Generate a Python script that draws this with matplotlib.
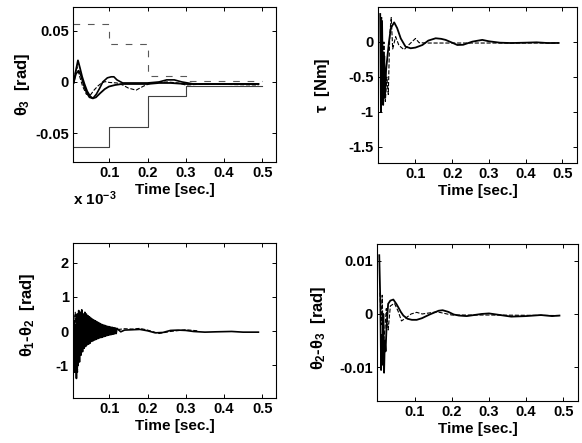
import matplotlib
matplotlib.use("Agg")
import matplotlib.pyplot as plt

plt.rcParams['font.family'] = ['Liberation Sans', 'DejaVu Sans']
plt.rcParams['font.weight'] = 'bold'
plt.rcParams['mathtext.fontset'] = 'custom'
plt.rcParams['mathtext.rm'] = 'Liberation Sans:bold'
plt.rcParams['mathtext.it'] = 'Liberation Sans:bold'
plt.rcParams['mathtext.bf'] = 'Liberation Sans:bold'

# ---- panel 1: theta_3 with bound staircase ----
th3_ta = [0.007, 0.012, 0.018, 0.023, 0.029, 0.035, 0.042, 0.050, 0.057, 0.065, 0.076,
          0.088, 0.099, 0.115, 0.133, 0.160, 0.200, 0.230, 0.260, 0.300, 0.350, 0.400,
          0.450, 0.490]
th3_a = [-0.001, 0.010, 0.021, 0.014, 0.005, -0.002, -0.009, -0.014, -0.016, -0.015, -0.011,
         -0.007, -0.0045, -0.003, -0.002, -0.002, -0.002, -0.001, -0.001, -0.002, -0.002, -0.002,
         -0.002, -0.002]
th3_tb = [0.007, 0.013, 0.020, 0.026, 0.033, 0.040, 0.048, 0.057, 0.066, 0.075, 0.083,
          0.095, 0.105, 0.112, 0.120, 0.135, 0.160, 0.200, 0.230, 0.250, 0.270, 0.290,
          0.320, 0.400, 0.490]
th3_b = [0.0, 0.008, 0.011, 0.006, -0.003, -0.010, -0.015, -0.016, -0.012, -0.006, 0.0,
         0.004, 0.005, 0.005, 0.002, -0.001, -0.001, -0.001, 0.0, 0.002, 0.002, 0.0,
         -0.002, -0.002, -0.002]
th3_tc = [0.007, 0.015, 0.022, 0.030, 0.040, 0.050, 0.060, 0.070, 0.080, 0.089, 0.100,
          0.120, 0.135, 0.150, 0.170, 0.190, 0.210, 0.250, 0.280, 0.300, 0.350, 0.490]
th3_c = [0.002, 0.015, 0.006, -0.004, -0.012, -0.013, -0.008, -0.004, -0.001, 0.0003, -0.0005,
         -0.001, -0.003, -0.006, -0.008, -0.004, -0.001, 0.0, -0.001, -0.003, -0.002, -0.003]
step_t = [0.005, 0.1, 0.2, 0.3, 0.5]
step_upper = [0.056, 0.037, 0.006, 0.001, 0.001]
step_lower = [-0.063, -0.044, -0.0136, -0.004, -0.004]

# ---- panel 2: torque ----
tau_ta = [0.004, 0.006, 0.009, 0.012, 0.015, 0.017, 0.020, 0.024, 0.028, 0.033, 0.042,
          0.050, 0.060, 0.073, 0.087, 0.100, 0.119, 0.135, 0.155, 0.170, 0.182, 0.200,
          0.214, 0.230, 0.255, 0.282, 0.300, 0.330, 0.360, 0.400, 0.430, 0.460, 0.490]
tau_a = [0.40, -1.00, 0.30, -0.90, -0.20, -0.80, -0.40, -0.19, 0.005, 0.20, 0.28,
         0.20, 0.05, -0.067, -0.09, -0.08, -0.043, 0.02, 0.053, 0.045, 0.03, -0.01,
         -0.043, -0.04, 0.005, 0.03, 0.01, -0.01, -0.015, -0.01, -0.005, -0.015, -0.014]
tau_tb = [0.005, 0.008, 0.011, 0.014, 0.018, 0.022, 0.026, 0.030, 0.034, 0.038, 0.046,
          0.055, 0.069, 0.080, 0.100, 0.110, 0.130, 0.200, 0.300, 0.490]
tau_b = [-0.20, 0.35, -0.70, 0.0, -0.85, -0.50, -0.75, 0.10, 0.35, -0.10, 0.076,
         -0.05, -0.11, -0.05, 0.05, -0.01, -0.015, -0.015, -0.015, -0.015]

# ---- panel 3: theta_1 - theta_2 ----
d12_t = [0.004, 0.006, 0.008, 0.010, 0.012, 0.014, 0.016, 0.018, 0.020, 0.022, 0.024,
         0.026, 0.028, 0.030, 0.032, 0.034, 0.036, 0.038, 0.040, 0.042, 0.044, 0.046,
         0.048, 0.050, 0.052, 0.054, 0.056, 0.058, 0.060, 0.062, 0.064, 0.066, 0.068,
         0.070, 0.072, 0.074, 0.076, 0.078, 0.080, 0.082, 0.084, 0.086, 0.088, 0.090,
         0.092, 0.094, 0.096, 0.098, 0.100, 0.102, 0.104, 0.106, 0.108, 0.110, 0.112,
         0.114, 0.116, 0.118, 0.120, 0.130, 0.140, 0.160, 0.180, 0.200, 0.220, 0.240,
         0.260, 0.280, 0.300, 0.320, 0.350, 0.380, 0.420, 0.450, 0.490]
d12 = [0.60, -0.80, 0.30, -1.20, 0.10, -1.38, 0.50, -1.00, 0.60, -0.90, 0.55,
       -0.70, 0.62, -0.60, 0.50, -0.50, 0.55, -0.45, 0.50, -0.40, 0.45, -0.38,
       0.42, -0.35, 0.38, -0.30, 0.35, -0.28, 0.32, -0.26, 0.30, -0.24, 0.27,
       -0.22, 0.25, -0.20, 0.22, -0.19, 0.20, -0.18, 0.18, -0.16, 0.17, -0.15,
       0.15, -0.13, 0.14, -0.12, 0.13, -0.11, 0.12, -0.10, 0.11, -0.09, 0.10,
       -0.08, 0.09, -0.07, 0.08, -0.02, 0.03, 0.04, 0.05, 0.01, -0.05, -0.04,
       0.02, 0.03, 0.02, -0.01, -0.03, -0.02, -0.01, -0.03, -0.03]
d12_tb = [0.005, 0.007, 0.009, 0.011, 0.013, 0.015, 0.017, 0.019, 0.021, 0.023, 0.025,
          0.027, 0.029, 0.031, 0.035, 0.039, 0.043, 0.047, 0.051, 0.055, 0.059, 0.063,
          0.067, 0.071, 0.075, 0.079, 0.083, 0.087, 0.091, 0.095, 0.099, 0.103, 0.107,
          0.111, 0.115, 0.125, 0.140, 0.160, 0.180, 0.200, 0.230, 0.260, 0.300, 0.330]
d12_b = [-0.50, 0.45, -1.00, 0.55, -0.80, 0.40, -1.20, 0.30, -0.60, 0.45, -0.50,
         0.40, -0.40, 0.35, -0.30, 0.40, -0.30, 0.30, -0.25, 0.28, -0.22, 0.24,
         -0.18, 0.20, -0.16, 0.18, -0.14, 0.15, -0.12, 0.12, -0.10, 0.10, -0.08,
         0.08, -0.06, 0.05, 0.07, 0.06, 0.08, 0.03, -0.07, -0.01, 0.04, 0.01]

# ---- panel 4: theta_2 - theta_3 ----
d23_ta = [0.004, 0.007, 0.009, 0.011, 0.013, 0.015, 0.017, 0.019, 0.021, 0.024, 0.028,
          0.034, 0.042, 0.050, 0.055, 0.062, 0.069, 0.080, 0.092, 0.105, 0.119, 0.140,
          0.164, 0.175, 0.190, 0.205, 0.219, 0.240, 0.260, 0.280, 0.300, 0.330, 0.360,
          0.400, 0.440, 0.470, 0.490]
d23_a = [0.011, 0.002, -0.0105, -0.004, -0.0095, 0.0, -0.011, -0.005, -0.007, -0.002, 0.0019,
         0.0025, 0.0027, 0.0019, 0.0013, 0.0004, -0.0003, -0.0009, -0.0011, -0.0011, -0.0008, -0.0001,
         0.0006, 0.0007, 0.0004, -0.0001, -0.0003, -0.0004, -0.0002, 0.0, 0.0001, -0.0002, -0.0005,
         -0.0004, -0.0002, -0.0004, -0.0003]
d23_tb = [0.006, 0.009, 0.012, 0.015, 0.019, 0.023, 0.028, 0.034, 0.045, 0.055, 0.064,
          0.075, 0.090, 0.105, 0.120, 0.160, 0.200, 0.300, 0.490]
d23_b = [0.004, -0.002, 0.0035, -0.006, -0.003, 0.001, -0.003, 0.0015, 0.002, 0.0005, -0.0013,
         -0.0008, 0.0, 0.0003, 0.0, 0.0004, -0.0002, -0.0002, -0.0003]

time_ticks = [0.1, 0.2, 0.3, 0.4, 0.5]
time_labels = ['0.1', '0.2', '0.3', '0.4', '0.5']

FS = 10.5
fig = plt.figure(figsize=(5.82, 4.43), dpi=100)

ax1 = fig.add_axes([0.1254, 0.6343, 0.3488, 0.3499])
ax2 = fig.add_axes([0.6495, 0.6320, 0.3419, 0.3522])
ax3 = fig.add_axes([0.1254, 0.1016, 0.3488, 0.3499])
ax4 = fig.add_axes([0.6478, 0.0948, 0.3453, 0.3544])


def style(ax, yticks, ylabels, ylim, xlim, ylabel, lab_x, lab_y=0.5):
    ax.set_xlim(*xlim)
    ax.set_ylim(*ylim)
    ax.set_xticks(time_ticks)
    ax.set_xticklabels(time_labels, fontsize=FS, fontweight='bold')
    ax.set_yticks(yticks)
    ax.set_yticklabels(ylabels, fontsize=FS, fontweight='bold')
    ax.tick_params(direction='in', top=True, right=True, length=3, width=0.7, pad=3)
    ax.set_xlabel('Time [sec.]', fontsize=11, fontweight='bold', labelpad=2)
    ax.set_ylabel(ylabel, fontsize=12, fontweight='bold')
    ax.yaxis.set_label_coords(lab_x, lab_y)
    for s in ax.spines.values():
        s.set_linewidth(0.8)


# panel 1
ax1.step(step_t, step_upper, where='post', color='0.35', lw=0.8, ls=(0, (6, 7)))
ax1.step(step_t, step_lower, where='post', color='0.25', lw=0.8)
ax1.plot(th3_tc, th3_c, color='k', lw=0.8, ls='--')
ax1.plot(th3_tb, th3_b, color='k', lw=1.2)
ax1.plot(th3_ta, th3_a, color='k', lw=1.3)
style(ax1, [-0.05, 0, 0.05], ['-0.05', '0', '0.05'], (-0.078, 0.073), (0.005, 0.536),
      r'$\theta_3$  [rad]', -0.2)
fig.text(0.1254, 0.538, r'x 10$^{-3}$', fontsize=11, fontweight='bold')

# panel 2
ax2.plot(tau_tb, tau_b, color='k', lw=0.8, ls='--')
ax2.plot(tau_ta, tau_a, color='k', lw=1.3)
style(ax2, [-1.5, -1, -0.5, 0], ['-1.5', '-1', '-0.5', '0'], (-1.73, 0.5), (-0.002, 0.54),
      r'$\tau$  [Nm]', -0.23)

# panel 3
ax3.plot(d12_tb, d12_b, color='k', lw=0.8, ls='--')
ax3.plot(d12_t, d12, color='k', lw=1.2)
style(ax3, [-1, 0, 1, 2], ['-1', '0', '1', '2'], (-1.95, 2.57), (0.005, 0.536),
      r'$\theta_1$-$\theta_2$  [rad]', -0.177, 0.535)

# panel 4
ax4.plot(d23_tb, d23_b, color='k', lw=0.8, ls='--')
ax4.plot(d23_ta, d23_a, color='k', lw=1.3)
style(ax4, [-0.01, 0, 0.01], ['-0.01', '0', '0.01'], (-0.0163, 0.0131), (-0.002, 0.54),
      r'$\theta_2$-$\theta_3$  [rad]', -0.244, 0.465)

fig.savefig('out.png', dpi=100)
